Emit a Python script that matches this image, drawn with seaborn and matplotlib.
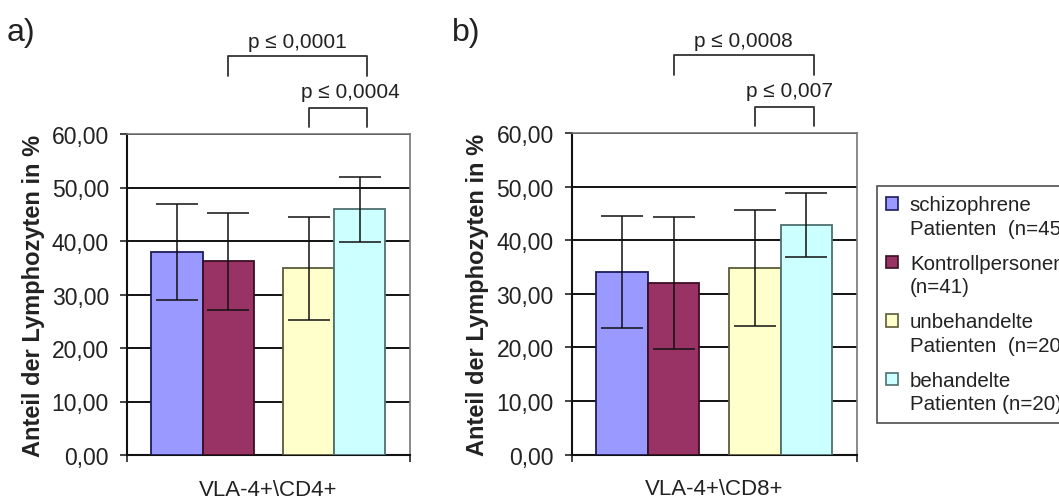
import numpy as np
import pandas as pd
import matplotlib
matplotlib.use("Agg")
import matplotlib.pyplot as plt
from matplotlib.patches import Patch, Rectangle
from matplotlib.legend_handler import HandlerPatch
from matplotlib.ticker import FuncFormatter
import seaborn as sns

# Gruppen und Darstellung
gruppen = [
    "schizophrene\nPatienten  (n=45)",
    "Kontrollpersonen\n(n=41)",
    "unbehandelte\nPatienten  (n=20)",
    "behandelte\nPatienten (n=20)",
]
farben = ["#9999FF", "#993366", "#FFFFCC", "#CCFFFF"]
kanten = ["#1c1c5c", "#3a0f22", "#5a5a3a", "#4f7070"]

# Mittelwerte und Standardabweichungen (Anteil in %)
cd4_mittel = [38.0, 36.2, 34.9, 45.9]
cd4_sd = [9.0, 9.1, 9.6, 6.0]
cd8_mittel = [34.1, 32.0, 34.8, 42.8]
cd8_sd = [10.4, 12.3, 10.8, 6.0]

panel_titel = ["a)", "b)"]
kategorien = ["VLA-4+\\CD4+", "VLA-4+\\CD8+"]
y_ticks = [0, 10, 20, 30, 40, 50, 60]

# Signifikanzangaben: (Gruppe links, Gruppe rechts, Text)
sig_cd4 = [(1, 3, "p \u2264 0,0001"), (2, 3, "p \u2264 0,0004")]
sig_cd8 = [(1, 3, "p \u2264 0,0008"), (2, 3, "p \u2264 0,007")]

sns.set_style("white")
plt.rcParams["font.family"] = ["Liberation Sans", "DejaVu Sans"]

W, H = 1059, 502
fig = plt.figure(figsize=(W / 100, H / 100), dpi=100)
fig.patch.set_facecolor("white")

# Balkenpositionen: zwei Paare mit Abstand dazwischen
idx = np.arange(len(gruppen))
pos = idx + np.where(idx >= 2, 0.58, 0.0)

achsen_px = [(127, 456, 283, 321), (571.7, 455.7, 285.3, 321.7)]
daten = [(cd4_mittel, cd4_sd, sig_cd4), (cd8_mittel, cd8_sd, sig_cd8)]
text_x = [[None, 3.39], [None, 3.26]]

for k, ((x0, y0, w, h), (mittel, sd, sig)) in enumerate(zip(achsen_px, daten)):
    ax = fig.add_axes([x0 / W, 1 - y0 / H, w / W, h / H])
    df = pd.DataFrame({"pos": pos, "wert": mittel, "gruppe": gruppen})
    sns.barplot(data=df, x="pos", y="wert", hue="gruppe", hue_order=gruppen,
                palette=farben, saturation=1, native_scale=True, dodge=False,
                width=1.0, errorbar=None, legend=False, ax=ax, zorder=3)
    bars = sorted([p for p in ax.patches], key=lambda p: p.get_x())
    for p, kc in zip(bars, kanten):
        p.set_edgecolor(kc)
        p.set_linewidth(1.3)
    ax.errorbar(pos, mittel, yerr=sd, fmt="none", ecolor="#111111",
                elinewidth=1.1, capsize=15, capthick=1.1, zorder=4)

    ax.set_ylim(0, 60)
    ax.set_xlim(-0.98, 4.565)
    ax.set_yticks(y_ticks)
    ax.yaxis.set_major_formatter(FuncFormatter(lambda v, _: f"{v:.2f}".replace(".", ",")))
    ax.yaxis.grid(True, color="#111111", linewidth=1.4, zorder=0)
    ax.set_axisbelow(True)
    ax.tick_params(axis="y", which="major", left=True, length=5, width=1.2,
                   color="#222222", labelsize=16.5, labelcolor="#222222", pad=8)
    ax.set_xticks([pos.mean()])
    ax.set_xticklabels([kategorien[k]])
    ax.set_xticks([-0.98, 4.565], minor=True)
    ax.tick_params(axis="x", which="major", length=0, labelsize=16,
                   labelcolor="#222222", pad=17)
    ax.tick_params(axis="x", which="minor", bottom=True, length=5, width=1.2,
                   color="#222222")
    ax.set_xlabel("")
    ax.set_ylabel("Anteil der Lymphozyten in %", fontsize=17,
                  fontweight="bold", color="#222222", labelpad=5)
    for s in ["left", "bottom"]:
        ax.spines[s].set_color("#111111")
        ax.spines[s].set_linewidth(1.5)
    for s in ["right", "top"]:
        ax.spines[s].set_color("#777777")
        ax.spines[s].set_linewidth(1.2)

    # Signifikanzklammern oberhalb der Achse
    ebenen = [(74.6, 70.8, 77.2), (64.9, 61.3, 68.0)]
    for j, (a, b, txt) in enumerate(sig):
        y_top, y_bot, y_txt = ebenen[j]
        xl, xr = pos[a], pos[b] + 0.14
        ax.plot([xl, xl, xr, xr], [y_bot, y_top, y_top, y_bot], color="#333333",
                linewidth=1.3, clip_on=False, zorder=5)
        tx = (xl + xr) / 2 if text_x[k][j] is None else text_x[k][j]
        ax.text(tx, y_txt, txt, ha="center", va="center", fontsize=15,
                color="#222222", clip_on=False)

fig.text(7 / W, 1 - 33 / H, panel_titel[0], fontsize=23, va="center", ha="left",
         color="#222222")
fig.text(452 / W, 1 - 33 / H, panel_titel[1], fontsize=23, va="center", ha="left",
         color="#222222")

# Legende: Farbfeld auf Höhe der ersten Textzeile
leg_fs = 14.8
leg_ls = 1.3


def feld_oben(legend, orig_handle, xdescent, ydescent, width, height, fontsize):
    return Rectangle((-xdescent, -ydescent + 0.5 * leg_ls * fontsize), width, height)


handles = [Patch(facecolor=f, edgecolor=kc, linewidth=1.2) for f, kc in zip(farben, kanten)]
leg = fig.legend(handles=handles, labels=gruppen, loc="upper left",
                 bbox_to_anchor=(877 / W, 1 - 187 / H), fontsize=leg_fs,
                 frameon=True, fancybox=False, edgecolor="#222222",
                 handlelength=0.55, handleheight=0.55, borderaxespad=0,
                 borderpad=0.45, handletextpad=0.6, labelspacing=0.78,
                 handler_map={Patch: HandlerPatch(patch_func=feld_oben)})
leg.get_frame().set_linewidth(1.2)
for t in leg.get_texts():
    t.set_color("#222222")
    t.set_linespacing(leg_ls)

fig.savefig("out.png", dpi=100)
